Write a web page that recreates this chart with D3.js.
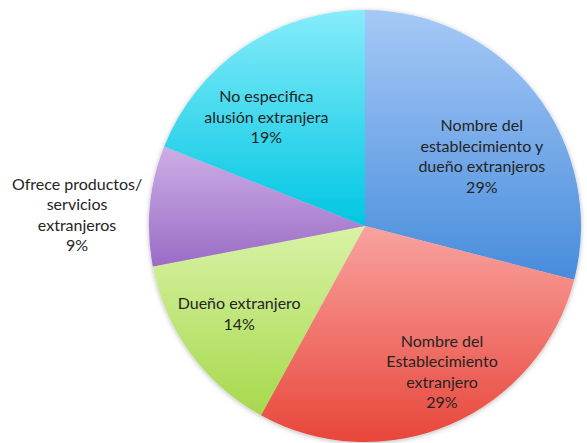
<!DOCTYPE html>
<html>
<head>
<meta charset="utf-8">
<script src="https://cdn.jsdelivr.net/npm/d3@7"></script>
<style>
  html, body { margin: 0; padding: 0; background: #ffffff; }
  svg { display: block; }
</style>
</head>
<body>
<svg id="chart" width="587" height="443"></svg>
<script>
// ---- data ----
const categories = [
  "Nombre del\nestablecimiento y\ndueño extranjeros",
  "Nombre del\nEstablecimiento\nextranjero",
  "Dueño extranjero",
  "Ofrece productos/\nservicios\nextranjeros",
  "No especifica\nalusión extranjera"
];
const values = [29, 29, 14, 9, 19];
const percentLabels = ["29%", "29%", "14%", "9%", "19%"];

// ---- styling / layout ----
const topColors    = ["#a6c9f6", "#f9a3a0", "#d9f2a6", "#cdaee6", "#86ecfa"];
const bottomColors = ["#478cdc", "#e8463a", "#a6d94c", "#9a6cc6", "#00c6e2"];
const labelRadius  = [0.63, 0.764, 0.71, 1.334, 0.68];
const labelAngleShift = [0.121, -0.077, 0.02, -0.056, -0.14];

const W = 587, H = 443;
const cx = 365, cy = 226, R = 216;

const svg = d3.select("#chart");
const defs = svg.append("defs");

const shadow = defs.append("filter").attr("id", "shadow")
  .attr("x", "-10%").attr("y", "-10%").attr("width", "120%").attr("height", "120%");
shadow.append("feDropShadow").attr("dx", 0).attr("dy", 1)
  .attr("stdDeviation", 2.5).attr("flood-color", "#000").attr("flood-opacity", 0.28);

values.forEach((v, i) => {
  const g = defs.append("linearGradient").attr("id", "grad" + i)
    .attr("x1", 0).attr("y1", 0).attr("x2", 0).attr("y2", 1);
  g.append("stop").attr("offset", "0%").attr("stop-color", topColors[i]);
  g.append("stop").attr("offset", "100%").attr("stop-color", bottomColors[i]);
});

const pie = d3.pie().sort(null).value(d => d).startAngle(0).endAngle(2 * Math.PI);
const arcs = pie(values);
const arc = d3.arc().innerRadius(0).outerRadius(R);

const g = svg.append("g").attr("transform", `translate(${cx},${cy})`);

const slices = g.append("g").attr("filter", "url(#shadow)");
slices.selectAll("path").data(arcs).enter().append("path")
  .attr("d", arc)
  .attr("fill", (d, i) => `url(#grad${i})`);

// labels
const labels = g.append("g")
  .attr("font-family", "Lato, 'Open Sans', sans-serif")
  .attr("font-size", 16)
  .attr("fill", "#242424")
  .attr("text-anchor", "middle");

arcs.forEach((d, i) => {
  const mid = (d.startAngle + d.endAngle) / 2 + labelAngleShift[i];
  const r = R * labelRadius[i];
  const x = Math.sin(mid) * r;
  const y = -Math.cos(mid) * r;
  const lines = categories[i].split("\n").concat([percentLabels[i]]);
  const lh = 20.5;
  const t = labels.append("text")
    .attr("transform", `translate(${x},${y})`);
  lines.forEach((ln, k) => {
    t.append("tspan").attr("x", 0)
      .attr("y", (k - (lines.length - 1) / 2) * lh)
      .attr("dy", "0.35em")
      .text(ln);
  });
});
</script>
</body>
</html>
